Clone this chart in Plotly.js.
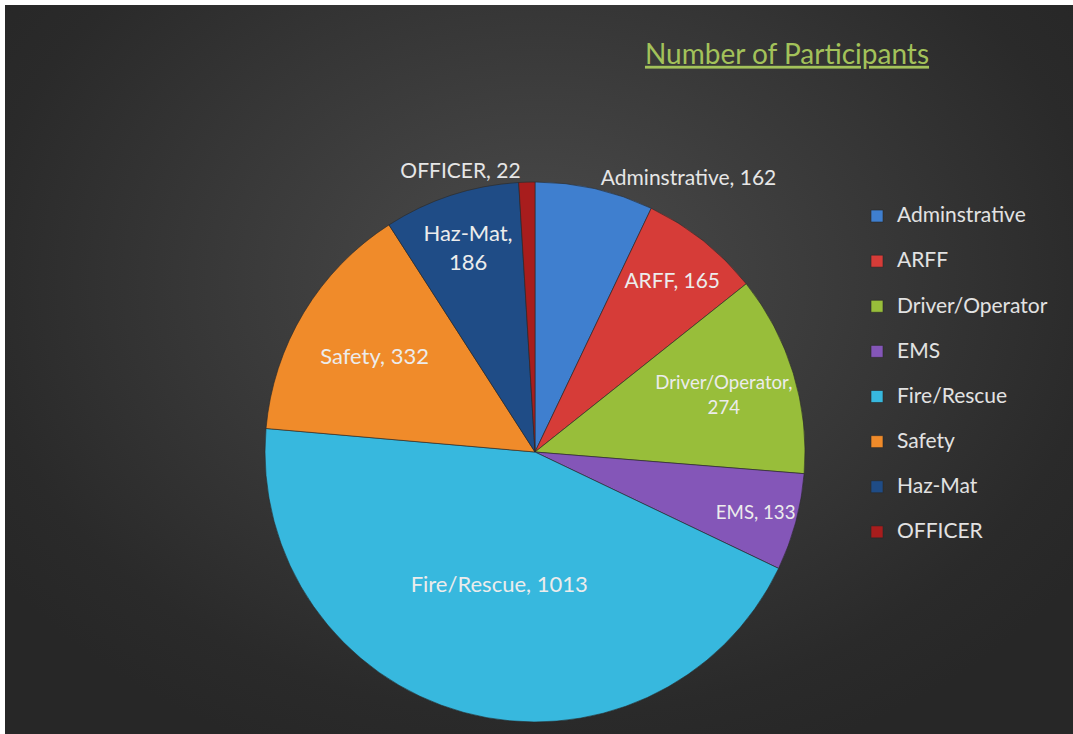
<!DOCTYPE html>
<html>
<head>
<meta charset="utf-8">
<script src="https://cdn.plot.ly/plotly-3.0.1.min.js"></script>
<style>
  html, body { margin: 0; padding: 0; background: #ffffff; }
  #wrap { position: relative; width: 1073px; height: 734px; overflow: hidden; background: #ffffff; }
  #bg { position: absolute; left: 5px; top: 5px; right: 0; bottom: 0;
        background: radial-gradient(ellipse 62% 70% at 50% 38%, #4c4c4c 0%, #3a3a3a 45%, #2a2a2a 85%, #272727 100%); }
  #chart { position: absolute; left: 0; top: 0; width: 1073px; height: 734px; }
</style>
</head>
<body>
<div id="wrap"><div id="bg"></div><div id="chart"></div></div>
<script>
// ---- data ----
var categories = ['Adminstrative', 'ARFF', 'Driver/Operator', 'EMS', 'Fire/Rescue', 'Safety', 'Haz-Mat', 'OFFICER'];
var participants = [162, 165, 274, 133, 1013, 332, 186, 22];
var chartTitle = 'Number of Participants';

// ---- styling ----
var sliceColors = ['#3f7fcf', '#d63c38', '#98be3a', '#8456b8', '#37b8de', '#f08b2a', '#1f4c86', '#a81d1d'];
var labelBreak = { 'Driver/Operator': true, 'Haz-Mat': true };
var labelPlacement = { 'Adminstrative': 'outside', 'OFFICER': 'outside' };
var FONT = 'Lato, "Open Sans", sans-serif';

var sliceText = categories.map(function (c, i) {
  return c + (labelBreak[c] ? ',<br>' : ', ') + participants[i];
});
var positions = categories.map(function (c) { return labelPlacement[c] || 'inside'; });
// legend entries: visible name on the first line, an empty second line gives the roomy row spacing
var legendNames = categories.map(function (c) {
  return '<span style="font-size:21px">' + c + '</span><br>&nbsp;';
});

var W = 1073, H = 734;
var cx = 535, cy = 452, R = 270;

var trace = {
  type: 'pie',
  labels: legendNames,
  values: participants,
  text: sliceText,
  textinfo: 'text',
  hoverinfo: 'text+value',
  sort: false,
  direction: 'clockwise',
  rotation: 0,
  textposition: positions,
  insidetextorientation: 'horizontal',
  textfont: { family: FONT, size: 22, color: '#ececec' },
  outsidetextfont: { family: FONT, size: 21, color: '#e6e6e6' },
  marker: { colors: sliceColors, line: { color: 'rgba(40,40,40,0.6)', width: 1 } },
  domain: { x: [(cx - R) / W, (cx + R) / W], y: [(H - cy - R) / H, (H - cy + R) / H] }
};

var layout = {
  width: W, height: H,
  margin: { l: 0, r: 0, t: 0, b: 0 },
  paper_bgcolor: 'rgba(0,0,0,0)',
  plot_bgcolor: 'rgba(0,0,0,0)',
  title: {
    text: '<u>' + chartTitle + '</u>',
    x: 787 / W, xanchor: 'center', xref: 'paper',
    y: 1 - 54 / H, yanchor: 'middle', yref: 'paper',
    font: { family: FONT, size: 28, color: '#a3c25a' }
  },
  showlegend: true,
  legend: {
    x: 857 / W, xanchor: 'left',
    y: 1 - 199 / H, yanchor: 'top',
    bgcolor: 'rgba(0,0,0,0)',
    font: { family: FONT, size: 16.2, color: '#e2e2e2' },
    valign: 'top',
    traceorder: 'normal'
  }
};

Plotly.newPlot('chart', [trace], layout, { displayModeBar: false, staticPlot: true });
</script>
</body>
</html>
